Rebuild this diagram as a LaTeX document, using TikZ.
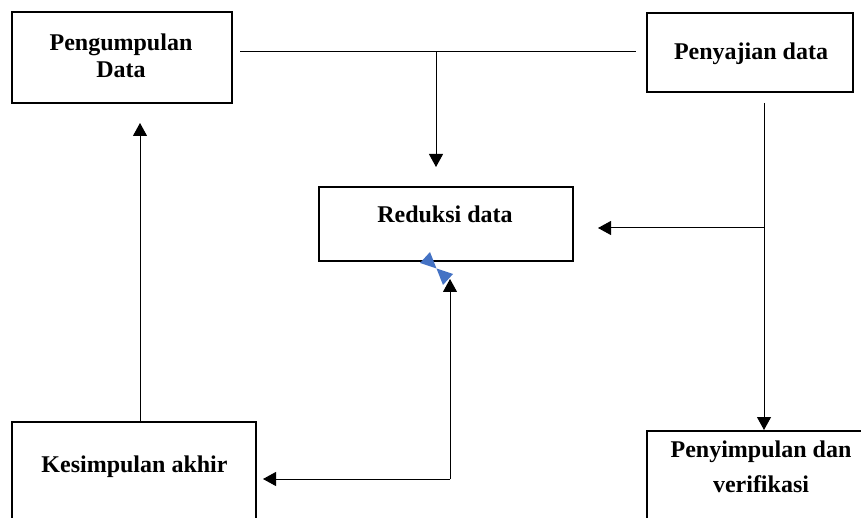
\documentclass[tikz,border=0pt]{standalone}
\usepackage{fontspec}
\setmainfont{Liberation Serif}
\usetikzlibrary{arrows.meta}
\definecolor{handleblue}{RGB}{68,114,196}
\begin{document}
\begin{tikzpicture}[x=1pt,y=-1pt,
    box/.style={draw, line width=2pt, inner sep=0pt},
    txt/.style={anchor=north, inner sep=0pt, align=center, font=\bfseries\fontsize{24}{27}\selectfont},
    arr/.style={-{Triangle[width=14pt,length=13pt]}},
    line width=1pt]
            \useasboundingbox (0,0) rectangle (861,518);
            \clip (0,0) rectangle (861,518);
            \begin{scope}
                \node[name=peng, box, minimum width=220, minimum height=91] at (122,57.5) (peng) {};
                \node[name=peny, box, minimum width=206, minimum height=79] at (750,52.5) (peny) {};
                \node[name=red, box, minimum width=254, minimum height=74] at (446,224) (red) {};
                \node[name=kes, box, minimum width=244, minimum height=130] at (134,487) (kes) {};
                \node[name=verif, box, minimum width=240, minimum height=130] at (767,496) (verif) {};
                \node[name=pengtxt, txt] at (121,33) (pengtxt) {Pengumpulan\\Data};
                \node[name=penytxt, txt] at (751,42) (penytxt) {Penyajian data};
                \node[name=redtxt, txt] at (445,205) (redtxt) {Reduksi data};
                \node[name=kestxt, txt] at (134.5,455) (kestxt) {Kesimpulan akhir};
                \node[name=veriftxt, txt] at (761,440) (veriftxt) {Penyimpulan dan\\[8pt]verifikasi};
                \coordinate (topL) at (240,52);
                \coordinate (topR) at (636,52);
                \coordinate (topM) at (436,52);
                \coordinate (redTop) at (436,167);
                \coordinate (penyOut) at (764,103);
                \coordinate (branch) at (764,228);
                \coordinate (redRight) at (598,228);
                \coordinate (kesUp) at (140,422);
                \coordinate (pengIn) at (140,123);
                \coordinate (corner) at (450,479);
                \coordinate (kesIn) at (263,479);
                \coordinate (redBot) at (450,279);
                \draw (topL) -- (topR);
                \draw[arr] (topM) -- (redTop);
                \draw[arr] (penyOut) -- (penyOut |- verif.north);
                \draw[arr] (branch) -- (redRight);
                \draw[arr] (kesUp) -- (pengIn);
                \draw[arr] (corner) -- (kesIn);
                \draw[arr] (corner) -- (redBot);
                % blue handle below Reduksi data
                \fill[handleblue] (436.5,268.5) -- (430,252) -- (420,263) -- cycle;
                \fill[handleblue] (436.5,268.5) -- (453,274) -- (443,285) -- cycle;
            \end{scope}
        \end{tikzpicture}
\end{document}
